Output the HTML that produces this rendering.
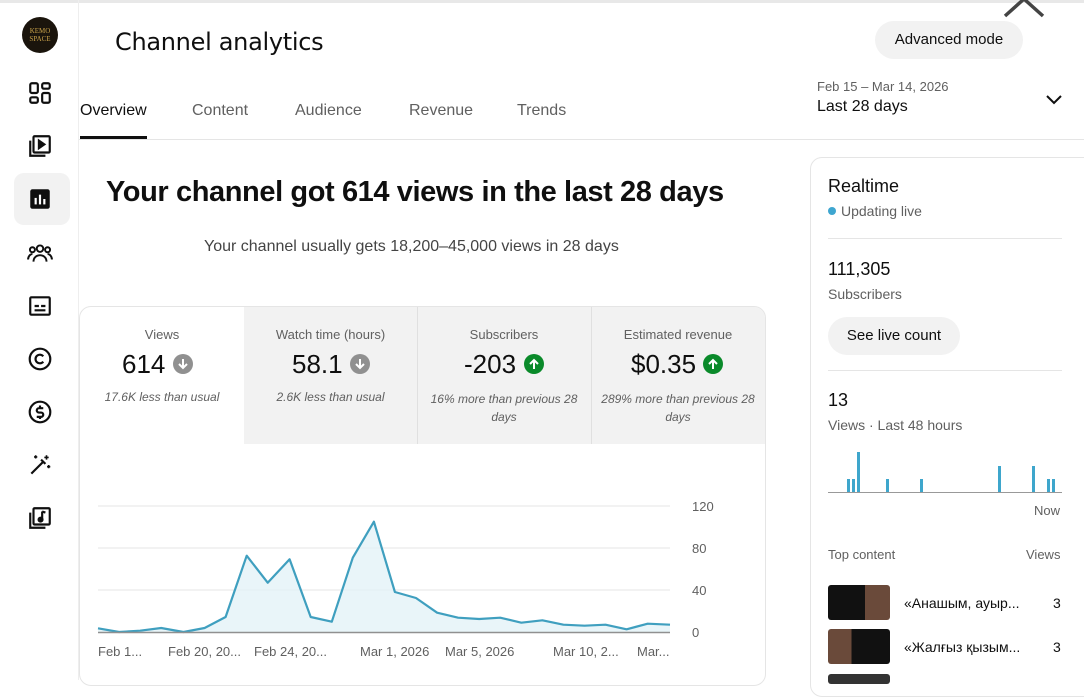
<!DOCTYPE html>
<html><head><meta charset="utf-8"><style>
*{box-sizing:border-box;margin:0;padding:0}
body{width:1084px;height:680px;overflow:hidden;background:#fff;font-family:"Liberation Sans","Noto Sans CJK SC",sans-serif;color:#0f0f0f;position:relative}
.a{position:absolute;white-space:nowrap}
.g{color:#606060}
.ic{position:absolute;left:27px;width:26px;height:26px}
</style></head><body>
<div class="a" style="left:0;top:0;width:1084px;height:3px;background:#e8e8e8"></div>
<div class="a" style="left:78px;top:0;width:1px;height:680px;background:#eee"></div>
<div class="a" style="left:22px;top:17px;width:36px;height:36px;border-radius:50%;background:#1a140c;color:#c9a24a;font-size:7px;line-height:8px;text-align:center;padding-top:10px;font-family:'Liberation Serif',serif">KEMO<br>SPACE</div>
<svg class="ic" style="top:80px" viewBox="0 0 24 24" fill="none" stroke="#0f0f0f" stroke-width="2"><rect x="3" y="3" width="7" height="9" rx="1.5"/><rect x="14" y="3" width="7" height="5" rx="1.5"/><rect x="3" y="16" width="7" height="5" rx="1.5"/><rect x="14" y="12" width="7" height="9" rx="1.5"/></svg>
<svg class="ic" style="top:133px" viewBox="0 0 24 24" fill="none" stroke="#0f0f0f" stroke-width="2"><rect x="6" y="3" width="15" height="15" rx="1"/><path d="M3 7v14h14"/><path d="M11 7l5 3.5-5 3.5z" fill="#0f0f0f"/></svg>
<div class="a" style="left:14px;top:173px;width:56px;height:52px;border-radius:10px;background:#f2f2f2"></div>
<svg class="ic" style="top:186px" viewBox="0 0 24 24"><rect x="3" y="3" width="18" height="18" rx="2" fill="#0f0f0f"/><rect x="7" y="11" width="2" height="6" fill="#fff"/><rect x="11" y="8" width="2" height="9" fill="#fff"/><rect x="15" y="12" width="2" height="5" fill="#fff"/></svg>
<svg class="ic" style="top:240px" viewBox="0 0 24 24" fill="none" stroke="#0f0f0f" stroke-width="1.8"><circle cx="12" cy="8" r="3"/><circle cx="5" cy="9" r="2.3"/><circle cx="19" cy="9" r="2.3"/><path d="M6 20c0-4 3-6 6-6s6 2 6 6M1 18c0-3 2-5 4-5M23 18c0-3-2-5-4-5"/></svg>
<svg class="ic" style="top:293px" viewBox="0 0 24 24" fill="none" stroke="#0f0f0f" stroke-width="2"><rect x="3" y="4" width="18" height="16" rx="1"/><path d="M7 12h4M13 12h4M7 16h10"/></svg>
<svg class="ic" style="top:346px" viewBox="0 0 24 24" fill="none" stroke="#0f0f0f" stroke-width="2"><circle cx="12" cy="12" r="9.5"/><path d="M15 9.5a4 4 0 1 0 0 5"/></svg>
<svg class="ic" style="top:399px" viewBox="0 0 24 24" fill="none" stroke="#0f0f0f" stroke-width="2"><circle cx="12" cy="12" r="9.5"/><path d="M15 8.5h-4a2 2 0 0 0 0 4h2a2 2 0 0 1 0 4H9M12 6v2M12 16.5v2"/></svg>
<svg class="ic" style="top:452px" viewBox="0 0 24 24" fill="none" stroke="#0f0f0f" stroke-width="2"><path d="M4 20L15 9M13 7l4 4"/><path d="M18 3v4M16 5h4M20 12v3M18.5 13.5h3M8 3v3M6.5 4.5h3" stroke-width="1.5"/></svg>
<svg class="ic" style="top:505px" viewBox="0 0 24 24" fill="none" stroke="#0f0f0f" stroke-width="2"><rect x="6" y="3" width="15" height="15" rx="1"/><path d="M3 7v14h14"/><path d="M14 6v7"/><circle cx="12.5" cy="13.5" r="1.8" fill="#0f0f0f"/><path d="M14 6l3 1"/></svg>

<div class="a" style="left:115px;top:28px;font-size:24px;font-family:'DejaVu Sans',sans-serif;letter-spacing:-0.3px">Channel analytics</div>
<div class="a" style="left:875px;top:21px;width:148px;height:38px;border-radius:19px;background:#f2f2f2;font-size:15px;line-height:38px;text-align:center">Advanced mode</div>
<svg class="a" style="left:1000px;top:0" width="50" height="20"><path d="M5 16L24 -1 43 16" stroke="#444" stroke-width="3.5" fill="none"/></svg>

<div class="a" style="left:80px;top:102px;font-size:16px">Overview</div>
<div class="a" style="left:80px;top:136px;width:67px;height:3px;background:#0f0f0f"></div>
<div class="a g" style="left:192px;top:102px;font-size:16px">Content</div>
<div class="a g" style="left:295px;top:102px;font-size:16px">Audience</div>
<div class="a g" style="left:409px;top:102px;font-size:16px">Revenue</div>
<div class="a g" style="left:517px;top:102px;font-size:16px">Trends</div>
<div class="a" style="left:79px;top:139px;width:1005px;height:1px;background:#e5e5e5"></div>
<div class="a g" style="left:817px;top:79px;font-size:13px">Feb 15 – Mar 14, 2026</div>
<div class="a" style="left:817px;top:98px;font-size:16px">Last 28 days</div>
<svg class="a" style="left:1045px;top:94px" width="18" height="12"><path d="M2 2l7 7 7-7" stroke="#0f0f0f" stroke-width="2" fill="none"/></svg>

<div class="a" style="left:106px;top:176px;font-size:29px;font-weight:bold;letter-spacing:-0.4px">Your channel got 614 views in the last 28 days</div>
<div class="a g" style="left:204px;top:238px;font-size:16px;color:#444">Your channel usually gets 18,200–45,000 views in 28 days</div>

<div class="a" style="left:79px;top:306px;width:687px;height:380px;border:1px solid #e5e5e5;border-radius:12px"></div>
<div class="a" style="left:244px;top:307px;width:521px;height:137px;background:#f2f2f2;border-top-right-radius:11px"></div>
<div class="a" style="left:417px;top:307px;width:1px;height:137px;background:#e0e0e0"></div>
<div class="a" style="left:591px;top:307px;width:1px;height:137px;background:#e0e0e0"></div>

<div class="a g" style="left:80px;top:327px;width:164px;text-align:center;font-size:13px">Views</div>
<div class="a" style="left:122px;top:349px;font-size:26px">614</div>
<svg class="a" style="left:173px;top:354px" width="20" height="20"><circle cx="10" cy="10" r="10" fill="#909090"/><path d="M10 5v9M6 10l4 4 4-4" stroke="#fff" stroke-width="2" fill="none"/></svg>
<div class="a g" style="left:80px;top:390px;width:164px;text-align:center;font-size:12px;font-style:italic">17.6K less than usual</div>

<div class="a g" style="left:244px;top:327px;width:173px;text-align:center;font-size:13px">Watch time (hours)</div>
<div class="a" style="left:292px;top:349px;font-size:26px">58.1</div>
<svg class="a" style="left:350px;top:354px" width="20" height="20"><circle cx="10" cy="10" r="10" fill="#909090"/><path d="M10 5v9M6 10l4 4 4-4" stroke="#fff" stroke-width="2" fill="none"/></svg>
<div class="a g" style="left:244px;top:390px;width:173px;text-align:center;font-size:12px;font-style:italic">2.6K less than usual</div>

<div class="a g" style="left:417px;top:327px;width:174px;text-align:center;font-size:13px">Subscribers</div>
<div class="a" style="left:464px;top:349px;font-size:26px">-203</div>
<svg class="a" style="left:524px;top:354px" width="20" height="20"><circle cx="10" cy="10" r="10" fill="#0a8a2a"/><path d="M10 15V6M6 10l4-4 4 4" stroke="#fff" stroke-width="2" fill="none"/></svg>
<div class="a g" style="left:417px;top:390px;width:174px;text-align:center;font-size:12px;font-style:italic;white-space:normal;line-height:18px">16% more than previous 28 days</div>

<div class="a g" style="left:591px;top:327px;width:174px;text-align:center;font-size:13px">Estimated revenue</div>
<div class="a" style="left:631px;top:349px;font-size:26px">$0.35</div>
<svg class="a" style="left:703px;top:354px" width="20" height="20"><circle cx="10" cy="10" r="10" fill="#0a8a2a"/><path d="M10 15V6M6 10l4-4 4 4" stroke="#fff" stroke-width="2" fill="none"/></svg>
<div class="a g" style="left:591px;top:390px;width:174px;text-align:center;font-size:12px;font-style:italic;white-space:normal;line-height:18px">289% more than previous 28 days</div>

<svg class="a" style="left:0;top:0" width="780" height="680" font-family="Liberation Sans,sans-serif" font-size="13" fill="#606060">
<g stroke="#e6e6e6" stroke-width="1"><line x1="98" y1="506" x2="670" y2="506"/><line x1="98" y1="548" x2="670" y2="548"/><line x1="98" y1="590" x2="670" y2="590"/></g>
<polygon fill="#e3f2f7" fill-opacity="0.8" points="98,632 98,628.3 119.1,632 140.1,630.7 161.2,628 183.5,632 204.6,628 225.6,617 246.7,555.7 267.7,582.7 289.6,559.3 310.7,617 331.8,621.7 352.8,557.7 373.9,521.7 394.9,592 416,598 437.1,612.7 458.1,617.7 479.2,619 500.2,617.7 521.3,622.7 542.4,620.3 563.4,624.7 584.5,625.7 605.5,624.7 626.6,629.3 647.7,623.7 670,624.7 670,632"/>
<polyline fill="none" stroke="#3f9fbf" stroke-width="2.2" stroke-linejoin="round" points="98,628.3 119.1,632 140.1,630.7 161.2,628 183.5,632 204.6,628 225.6,617 246.7,555.7 267.7,582.7 289.6,559.3 310.7,617 331.8,621.7 352.8,557.7 373.9,521.7 394.9,592 416,598 437.1,612.7 458.1,617.7 479.2,619 500.2,617.7 521.3,622.7 542.4,620.3 563.4,624.7 584.5,625.7 605.5,624.7 626.6,629.3 647.7,623.7 670,624.7"/>
<line x1="98" y1="632.5" x2="670" y2="632.5" stroke="#909090" stroke-width="1.5"/>
<text x="692" y="511">120</text><text x="692" y="553">80</text><text x="692" y="595">40</text><text x="692" y="637">0</text>
<text x="98" y="656">Feb 1...</text><text x="168" y="656">Feb 20, 20...</text><text x="254" y="656">Feb 24, 20...</text><text x="360" y="656">Mar 1, 2026</text><text x="445" y="656">Mar 5, 2026</text><text x="553" y="656">Mar 10, 2...</text><text x="637" y="656">Mar...</text>
</svg>

<div class="a" style="left:810px;top:157px;width:290px;height:540px;border:1px solid #e5e5e5;border-radius:12px"></div>
<div class="a" style="left:828px;top:176px;font-size:18px">Realtime</div>
<div class="a" style="left:828px;top:207px;width:8px;height:8px;border-radius:50%;background:#3ea6d0"></div>
<div class="a g" style="left:841px;top:203px;font-size:14px">Updating live</div>
<div class="a" style="left:828px;top:238px;width:234px;height:1px;background:#e5e5e5"></div>
<div class="a" style="left:828px;top:259px;font-size:18px">111,305</div>
<div class="a g" style="left:828px;top:286px;font-size:14px">Subscribers</div>
<div class="a" style="left:828px;top:317px;width:132px;height:38px;border-radius:19px;background:#f2f2f2;font-size:15px;line-height:38px;text-align:center">See live count</div>
<div class="a" style="left:828px;top:370px;width:234px;height:1px;background:#e5e5e5"></div>
<div class="a" style="left:828px;top:390px;font-size:18px">13</div>
<div class="a g" style="left:828px;top:417px;font-size:14px">Views · Last 48 hours</div>
<svg class="a" style="left:828px;top:450px" width="236" height="50"><g fill="#3ea6cc"><rect x="19" y="29" width="3" height="13"/><rect x="24" y="29" width="3" height="13"/><rect x="29" y="2" width="3" height="40"/><rect x="58" y="29" width="3" height="13"/><rect x="92" y="29" width="3" height="13"/><rect x="170" y="16" width="3" height="26"/><rect x="204" y="16" width="3" height="26"/><rect x="219" y="29" width="3" height="13"/><rect x="224" y="29" width="3" height="13"/></g><line x1="0" y1="42.5" x2="234" y2="42.5" stroke="#999"/></svg>
<div class="a g" style="left:1034px;top:503px;font-size:13px">Now</div>
<div class="a g" style="left:828px;top:547px;font-size:13px">Top content</div>
<div class="a g" style="left:1026px;top:547px;font-size:13px">Views</div>
<div class="a" style="left:828px;top:585px;width:62px;height:35px;border-radius:3px;background:linear-gradient(90deg,#111 60%,#6a4a3a 60%)"></div>
<div class="a" style="left:904px;top:595px;font-size:14px;font-family:'Liberation Sans','DejaVu Sans',sans-serif">«Анашым, ауыр...</div>
<div class="a" style="left:1053px;top:595px;font-size:14px">3</div>
<div class="a" style="left:828px;top:629px;width:62px;height:35px;border-radius:3px;background:linear-gradient(90deg,#6a4a3a 38%,#111 38%)"></div>
<div class="a" style="left:904px;top:639px;font-size:14px;font-family:'Liberation Sans','DejaVu Sans',sans-serif">«Жалғыз қызым...</div>
<div class="a" style="left:1053px;top:639px;font-size:14px">3</div>
<div class="a" style="left:828px;top:674px;width:62px;height:10px;border-radius:3px;background:#333"></div>
</body></html>
